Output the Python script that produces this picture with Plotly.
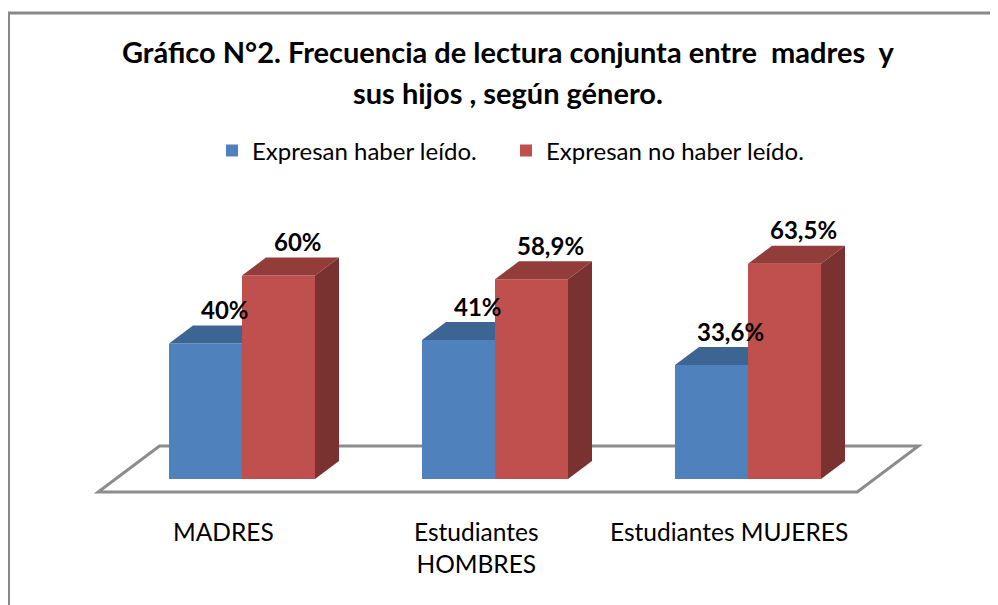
import plotly.graph_objects as go

# ---------------- data ----------------
categories = ["MADRES", "Estudiantes HOMBRES", "Estudiantes MUJERES"]
category_labels = ["MADRES", "Estudiantes<br>HOMBRES", "Estudiantes MUJERES"]
series_names = ["Expresan haber leído.", "Expresan no haber leído."]
leido = [40, 41, 33.6]
no_leido = [60, 58.9, 63.5]
labels_leido = ["40%", "41%", "33,6%"]
labels_no_leido = ["60%", "58,9%", "63,5%"]
title_lines = ["Gráfico N°2. Frecuencia de lectura conjunta entre \u00a0madres \u00a0y",
               "sus hijos , según género."]

# ---------------- style / geometry ----------------
PAGE = 8          # browser body margin
W, H = 998 - PAGE, 605 - PAGE
PX_X = 253.0      # pixels per category unit
X0 = 242.0 - PAGE # pixel of category 0
PX_Y = 3.39       # pixels per percent
Y0 = 479.0 - PAGE # pixel of 0 %
BW = 73.0 / PX_X  # bar width (category units)
DX = 24.0 / PX_X  # 3D depth shift in x (category units)
DY = 18.0 / PX_Y  # 3D depth shift in y (percent units)
FLOOR_FRONT = -13.0 / 18.0
FLOOR_BACK = 33.0 / 18.0

FONT = "Lato"
colors_front = ["#4F81BD", "#C0504D"]
colors_top = ["#3D6594", "#933D3A"]
colors_side = ["#304F74", "#7A3230"]

xr = [(0 - X0) / PX_X, (W - X0) / PX_X]
yr = [(Y0 - H) / PX_Y, Y0 / PX_Y]

n = len(categories)
xs = list(range(n))
series = [leido, no_leido]
series_labels = [labels_leido, labels_no_leido]
legend_ids = ["legend", "legend2"]

fig = go.Figure()

# front faces as real bars
offsets = [-BW, 0.0]
for s in range(2):
    fig.add_trace(go.Bar(
        x=xs, y=series[s], name=series_names[s],
        offset=offsets[s], width=BW,
        marker=dict(color=colors_front[s], line=dict(width=0)),
        hoverinfo="skip", legend=legend_ids[s],
    ))

# top & side faces (computed from data through the axes' scales)
for i in xs:
    for s in range(2):
        v = series[s][i]
        x0 = i + offsets[s]
        x1 = x0 + BW
        nxt = series[s + 1][i] if s + 1 < 2 else None
        hidden_right = nxt is not None and nxt >= v
        if hidden_right:
            tx = [x0, x1, x1, x0 + DX, x0]
        else:
            tx = [x0, x1, x1 + DX, x0 + DX, x0]
        ty = [v, v, v + DY, v + DY, v]
        fig.add_trace(go.Scatter(x=tx, y=ty, fill="toself", mode="lines",
                                 line=dict(width=0), fillcolor=colors_top[s],
                                 showlegend=False, hoverinfo="skip"))
        if not hidden_right:
            sx = [x1, x1 + DX, x1 + DX, x1, x1]
            sy = [0, DY, v + DY, v, 0]
            fig.add_trace(go.Scatter(x=sx, y=sy, fill="toself", mode="lines",
                                     line=dict(width=0), fillcolor=colors_side[s],
                                     showlegend=False, hoverinfo="skip"))

# floor
fl, frt = -0.5, n - 0.5
pts = [(fl + FLOOR_FRONT * DX, FLOOR_FRONT * DY), (frt + FLOOR_FRONT * DX, FLOOR_FRONT * DY),
       (frt + FLOOR_BACK * DX, FLOOR_BACK * DY), (fl + FLOOR_BACK * DX, FLOOR_BACK * DY)]
path = "M " + " L ".join(f"{px},{py}" for px, py in pts) + " Z"
fig.add_shape(type="path", path=path, xref="x", yref="y", layer="below",
              line=dict(color="#8C8C8C", width=3), fillcolor="rgba(0,0,0,0)")

# outer chart border
fig.add_shape(type="rect", xref="paper", yref="paper",
              x0=(8.5 - PAGE) / W, x1=1.02, y0=-0.05, y1=1 - (13.0 - PAGE) / H,
              line=dict(color="#888888", width=3), fillcolor="rgba(0,0,0,0)", layer="below")

annotations = []
# data labels
for s in range(2):
    for i in xs:
        annotations.append(dict(
            x=i + offsets[s] + BW / 2, y=series[s][i], xref="x", yref="y",
            text=series_labels[s][i], showarrow=False, xshift=19, yshift=34,
            font=dict(family=FONT, size=24, color="black", weight="bold"),
        ))
# category labels
for i in xs:
    annotations.append(dict(
        x=i, y=(Y0 - (515 - PAGE)) / PX_Y, xref="x", yref="y", yanchor="top",
        text=category_labels[i], showarrow=False, xshift=-19,
        font=dict(family=FONT, size=24.5, color="black"),
    ))
# title
title_y = [52 - PAGE, 93 - PAGE]
for k, t in enumerate(title_lines):
    annotations.append(dict(
        x=(508.0 - PAGE) / W, y=1 - title_y[k] / H, xref="paper", yref="paper",
        text=f"<b>{t}</b>", showarrow=False, xanchor="center", yanchor="middle",
        font=dict(family=FONT, size=29, color="black"),
    ))

legend_style = dict(orientation="h", yanchor="middle", xanchor="left",
                    y=1 - (151.0 - PAGE) / H,
                    font=dict(family=FONT, size=24, color="black"),
                    bgcolor="rgba(0,0,0,0)")

fig.update_layout(
    width=W, height=H,
    margin=dict(l=0, r=0, t=0, b=0),
    paper_bgcolor="white", plot_bgcolor="white",
    xaxis=dict(range=xr, visible=False, fixedrange=True),
    yaxis=dict(range=yr, visible=False, fixedrange=True),
    barmode="overlay",
    showlegend=True,
    legend=dict(x=(212.0 - PAGE) / W, **legend_style),
    legend2=dict(x=(506.0 - PAGE) / W, **legend_style),
    annotations=annotations,
)

fig.write_html("out.html")
